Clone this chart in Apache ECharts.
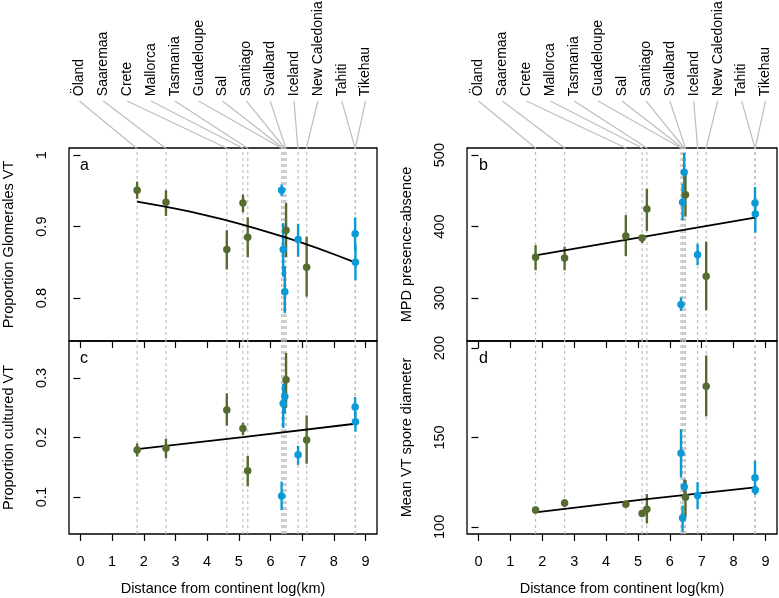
<!DOCTYPE html>
<html><head><meta charset="utf-8">
<script src="https://cdn.jsdelivr.net/npm/echarts@6/dist/echarts.min.js"></script>
<style>html,body{margin:0;padding:0;background:#fff}#chart{width:779px;height:598px}</style>
</head><body><div id="chart"></div>
<script>
// ---------- data ----------
const islands = ['Öland','Saaremaa','Crete','Mallorca','Tasmania','Guadeloupe','Sal','Santiago','Svalbard','Iceland','New Caledonia','Tahiti','Tikehau'];
const distance = [1.79, 2.70, 4.62, 5.13, 5.28, 6.35, 6.40, 6.45, 6.49, 6.87, 7.14, 8.67, 8.68];
const islandType = ['continental','continental','continental','continental','continental','oceanic','oceanic','oceanic','continental','oceanic','continental','oceanic','oceanic'];
const xTicks = [0,1,2,3,4,5,6,7,8,9];

const glomMean = [0.951, 0.934, 0.868, 0.933, 0.885, 0.951, 0.868, 0.809, 0.895, 0.882, 0.843, 0.890, 0.850];
const glomLow  = [0.939, 0.915, 0.840, 0.920, 0.857, 0.943, 0.830, 0.779, 0.857, 0.858, 0.802, 0.866, 0.825];
const glomHigh = [0.963, 0.951, 0.895, 0.945, 0.913, 0.959, 0.905, 0.845, 0.933, 0.904, 0.886, 0.913, 0.875];
const glomFitX = [1.79, 2.5, 3, 3.5, 4, 4.5, 5, 5.5, 6, 6.5, 7, 7.5, 8, 8.67];
const glomFitY = [0.935, 0.9295, 0.9252, 0.9205, 0.9154, 0.9100, 0.9042, 0.8980, 0.8914, 0.8845, 0.8772, 0.8695, 0.8614, 0.850];
const glomTicks = [0.8, 0.9, 1];

const mpdMean = [357, 356, 387, 384, 424.5, 291, 434, 476, 444.6, 360.6, 330.6, 433, 417.5];
const mpdLow  = [339, 339, 359, 377, 394, 282, 409, 449, 414, 346, 283, 411, 391.5];
const mpdHigh = [374, 372, 416, 388, 453, 301, 460, 503, 478, 376, 379, 455.5, 440];
const mpdFitX = [1.79, 8.67];
const mpdFitY = [359.7, 412.7];
const mpdTicks = [300, 400, 500];

const cultMean = [0.179, 0.182, 0.246, 0.215, 0.144, 0.102, 0.257, 0.269, 0.297, 0.171, 0.196, 0.251, 0.2265];
const cultLow  = [0.168, 0.165, 0.220, 0.204, 0.118, 0.078, 0.216, 0.240, 0.250, 0.154, 0.156, 0.235, 0.210];
const cultHigh = [0.190, 0.198, 0.274, 0.225, 0.169, 0.126, 0.290, 0.298, 0.342, 0.186, 0.237, 0.268, 0.243];
const cultFitX = [1.79, 5.13, 8.67];
const cultFitY = [0.1804, 0.2005, 0.2231];
const cultTicks = [0.1, 0.2, 0.3];

const sporeMean = [109.4, 113.3, 112.7, 107.5, 109.9, 141.2, 105, 122.5, 116.5, 117.6, 178.7, 127.5, 120.6];
const sporeLow  = [107.5, 111.2, 110.9, 105.6, 101.9, 127.7, 97.2, 118.5, 105.6, 110, 161.8, 118, 117.8];
const sporeHigh = [111.2, 115.4, 114.6, 109, 118.4, 154.7, 112, 126.5, 126.2, 125, 195.9, 136.9, 123.5];
const sporeFitX = [1.79, 5.13, 8.67];
const sporeFitY = [108.1, 115.2, 122.1];
const sporeTicks = [100, 150, 200];

// ---------- styling / layout ----------
const FONT = '"Liberation Sans", Arial, Helvetica, sans-serif';
const GREEN = '#556B2F', BLUE = '#0C9AD6', GREY = '#bebebe';
const X_MIN = -0.36, X_MAX = 9.36;
const colorOf = t => t === 'continental' ? GREEN : BLUE;

const panels = [
  {key:'a', left:68,  top:148, width:309, height:193, yMin:0.74, yMax:1.01, ticks:glomTicks,  name:'Proportion Glomerales VT',
   mean:glomMean, low:glomLow, high:glomHigh, fitX:glomFitX, fitY:glomFitY, bottom:false},
  {key:'b', left:467, top:148, width:310, height:193, yMin:240, yMax:510, ticks:mpdTicks, name:'MPD presence-absence',
   mean:mpdMean, low:mpdLow, high:mpdHigh, fitX:mpdFitX, fitY:mpdFitY, bottom:false},
  {key:'c', left:68,  top:341, width:309, height:193, yMin:0.038, yMax:0.362, ticks:cultTicks, name:'Proportion cultured VT',
   mean:cultMean, low:cultLow, high:cultHigh, fitX:cultFitX, fitY:cultFitY, bottom:true},
  {key:'d', left:467, top:341, width:310, height:193, yMin:96, yMax:204, ticks:sporeTicks, name:'Mean VT spore diameter',
   mean:sporeMean, low:sporeLow, high:sporeHigh, fitX:sporeFitX, fitY:sporeFitY, bottom:true}
];

const grid = [], xAxis = [], yAxis = [], series = [], graphic = [];
const txt = {fontFamily: FONT, fontSize: 14.5, color: '#000'};

panels.forEach((p, i) => {
  grid.push({left:p.left, top:p.top, width:p.width, height:p.height, show:true, borderColor:'#000', borderWidth:1.3, backgroundColor:'transparent'});
  const xi = xAxis.length;
  xAxis.push({
    type:'value', gridIndex:i, min:X_MIN, max:X_MAX, position:'bottom',
    axisLine:{show:false}, splitLine:{show:false},
    axisTick:{show:p.bottom, length:7, customValues:xTicks, lineStyle:{color:'#000', width:1.2}},
    axisLabel:{show:p.bottom, customValues:xTicks, margin:20, ...txt},
    name: p.bottom ? 'Distance from continent log(km)' : '', nameLocation:'middle', nameGap:47,
    nameTextStyle:{...txt}
  });
  if (p.bottom) {
    xAxis.push({
      type:'value', gridIndex:i, min:X_MIN, max:X_MAX, position:'top',
      axisLine:{show:false}, splitLine:{show:false}, axisLabel:{show:false},
      axisTick:{show:true, inside:true, length:7, customValues:xTicks, lineStyle:{color:'#000', width:1.2}}
    });
  }
  yAxis.push({
    type:'value', gridIndex:i, min:p.yMin, max:p.yMax,
    axisLine:{show:false}, splitLine:{show:false},
    axisTick:{show:true, length:7, customValues:p.ticks, lineStyle:{color:'#000', width:1.2}},
    axisLabel:{customValues:p.ticks, rotate:90, margin:20, ...txt},
    name:p.name, nameLocation:'middle', nameRotate:90, nameGap:53, nameTextStyle:{...txt}
  });

  // dashed vertical island lines
  series.push({
    type:'custom', xAxisIndex:xi, yAxisIndex:i, z:1, silent:true, animation:false,
    data: distance.map(x => [x]),
    renderItem: (params, api) => {
      const a = api.coord([api.value(0), p.yMin]);
      const b = api.coord([api.value(0), p.yMax]);
      return {type:'line', shape:{x1:a[0], y1:a[1], x2:b[0], y2:b[1]},
              style:{stroke:GREY, lineWidth:1.2, lineDash:[3,3]}};
    }
  });
  // error bars
  series.push({
    type:'custom', xAxisIndex:xi, yAxisIndex:i, z:2, silent:true, animation:false,
    data: distance.map((x, j) => [x, p.low[j], p.high[j], j]),
    renderItem: (params, api) => {
      const a = api.coord([api.value(0), api.value(1)]);
      const b = api.coord([api.value(0), api.value(2)]);
      const j = api.value(3);
      return {type:'line', shape:{x1:a[0], y1:a[1], x2:b[0], y2:b[1]},
              style:{stroke:colorOf(islandType[j]), lineWidth:2.4}};
    }
  });
  // fitted line
  series.push({
    type:'line', xAxisIndex:xi, yAxisIndex:i, z:3, silent:true, animation:false,
    showSymbol:false, symbol:'none', lineStyle:{color:'#000', width:1.8},
    data: p.fitX.map((x, k) => [x, p.fitY[k]])
  });
  // points
  series.push({
    type:'scatter', xAxisIndex:xi, yAxisIndex:i, z:4, silent:true, animation:false,
    symbolSize:7.5,
    data: distance.map((x, j) => ({value:[x, p.mean[j]], itemStyle:{color:colorOf(islandType[j]), opacity:1}}))
  });

  graphic.push({type:'text', left:p.left + 12, top:p.top + 10,
    style:{text:p.key, fontFamily:FONT, fontSize:16, fill:'#000'}});
});

// label grids above top panels
[ {left:68, width:309}, {left:467, width:310} ].forEach(g => {
  const gi = grid.length;
  grid.push({left:g.left, width:g.width, top:0, height:148, show:false});
  const xi = xAxis.length, yi = yAxis.length;
  xAxis.push({type:'value', gridIndex:gi, min:X_MIN, max:X_MAX, show:false});
  yAxis.push({type:'value', gridIndex:gi, min:0, max:1, show:false});
  series.push({
    type:'custom', xAxisIndex:xi, yAxisIndex:yi, silent:true, animation:false, clip:false,
    data: islands.map((name, i) => [i * 9 / (islands.length - 1), distance[i], i]),
    renderItem: (params, api) => {
      const lx = api.value(0), ix = api.value(1), idx = api.value(2);
      const s = api.coord([lx, 0.318]);
      const e = api.coord([ix, 0]);
      const t = api.coord([lx, 0.35]);
      return {type:'group', children:[
        {type:'line', shape:{x1:s[0], y1:s[1], x2:e[0], y2:e[1]}, style:{stroke:GREY, lineWidth:1.2}},
        {type:'text', x:t[0], y:t[1], rotation:Math.PI/2,
         style:{text:islands[idx], fontFamily:FONT, fontSize:14, fill:'#000', align:'left', verticalAlign:'middle'}}
      ]};
    }
  });
});

const chart = echarts.init(document.getElementById('chart'), null, {renderer:'canvas'});
chart.setOption({animation:false, backgroundColor:'#fff', grid, xAxis, yAxis, series, graphic});
</script></body></html>
